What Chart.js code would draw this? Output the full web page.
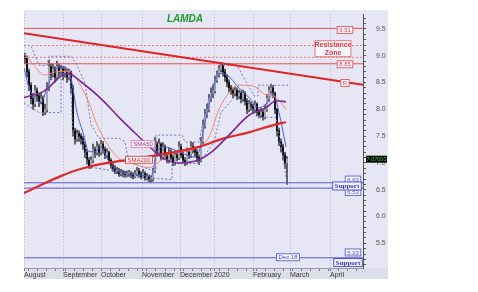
<!DOCTYPE html>
<html>
<head>
<meta charset="utf-8">
<script src="https://cdn.jsdelivr.net/npm/chart.js@4.4.1/dist/chart.umd.min.js"></script>
<style>
html, body { margin: 0; padding: 0; background: #fff; }
</style>
</head>
<body>
<canvas id="chart" width="478" height="292"></canvas>
<script>
// LAMDA daily candles, Aug 2019 - Feb 2020 (x = trading-day slot)
const firstOpen = 9.0;
const closes = [8.95, 8.7, 8.45, 8.2, 8.1, 8.35, 8.25, 8.15, 8.2, 7.95,
  8.0, 8.4, 8.8, 8.65, 8.75, 8.6, 8.8, 8.7, 8.75, 8.65,
  8.7, 8.6, 8.7, 8.4, 7.6, 7.45, 7.55, 7.5, 7.45, 7.35,
  7.2, 7.05, 6.95, 7.05, 7.25, 7.2, 7.3, 7.2, 7.35, 7.25,
  7.15, 7.2, 7.05, 6.95, 6.9, 6.85, 6.85, 6.8, 6.82, 6.8,
  6.78, 6.8, 6.8, 6.78, 6.75, 6.8, 6.85, 6.8, 6.75, 6.8,
  6.72, 6.75, 6.7, 6.7, 6.85, 7.35, 7.2, 7.35, 7.1, 7.3,
  7.15, 7.05, 7.2, 7.1, 7.0, 7.15, 7.1, 7.3, 7.15, 7.05,
  7.0, 7.2, 7.15, 7.3, 7.25, 7.2, 7.1, 7.05, 7.4, 7.7,
  7.9, 8.0, 8.2, 8.3, 8.35, 8.55, 8.65, 8.75, 8.82, 8.7,
  8.6, 8.5, 8.4, 8.35, 8.3, 8.35, 8.25, 8.3, 8.2, 8.3,
  8.15, 8.0, 8.1, 8.05, 8.0, 8.1, 7.95, 7.9, 7.95, 7.85,
  8.0, 8.2, 8.35, 8.4, 8.3, 8.0, 7.6, 7.4, 7.3, 7.15,
  7.0, 7.07];
const highs = [9.05, 9.0, 8.75, 8.5, 8.3, 8.45, 8.4, 8.3, 8.3, 8.25,
  8.1, 8.5, 8.92, 8.85, 8.85, 8.8, 8.9, 8.85, 8.82, 8.8,
  8.78, 8.75, 8.75, 8.72, 8.45, 7.65, 7.62, 7.6, 7.55, 7.5,
  7.4, 7.25, 7.1, 7.12, 7.35, 7.3, 7.4, 7.35, 7.42, 7.4,
  7.3, 7.27, 7.22, 7.08, 7.0, 6.95, 6.92, 6.9, 6.88, 6.86,
  6.85, 6.85, 6.86, 6.84, 6.82, 6.86, 6.92, 6.9, 6.84, 6.88,
  6.84, 6.8, 6.78, 6.76, 6.9, 7.48, 7.4, 7.45, 7.38, 7.38,
  7.34, 7.2, 7.28, 7.25, 7.15, 7.22, 7.2, 7.4, 7.35, 7.2,
  7.1, 7.28, 7.25, 7.4, 7.38, 7.3, 7.25, 7.15, 7.48, 7.8,
  8.0, 8.1, 8.28, 8.4, 8.45, 8.62, 8.72, 8.82, 8.87, 8.85,
  8.75, 8.65, 8.55, 8.45, 8.4, 8.42, 8.4, 8.36, 8.34, 8.36,
  8.33, 8.2, 8.17, 8.14, 8.1, 8.16, 8.12, 8.0, 8.02, 7.98,
  8.08, 8.28, 8.42, 8.47, 8.45, 8.32, 8.02, 7.65, 7.45, 7.35,
  7.2, 7.12];
const lows = [8.85, 8.6, 8.35, 8.1, 8.0, 8.05, 8.15, 8.05, 8.1, 7.88,
  7.9, 7.95, 8.35, 8.55, 8.6, 8.5, 8.55, 8.6, 8.65, 8.55,
  8.6, 8.5, 8.55, 8.3, 7.5, 7.35, 7.4, 7.4, 7.35, 7.25,
  7.1, 6.98, 6.9, 6.9, 7.0, 7.1, 7.15, 7.12, 7.15, 7.18,
  7.08, 7.1, 6.98, 6.9, 6.84, 6.8, 6.8, 6.75, 6.76, 6.74,
  6.73, 6.74, 6.75, 6.72, 6.7, 6.72, 6.76, 6.74, 6.7, 6.72,
  6.68, 6.68, 6.65, 6.64, 6.66, 6.82, 7.12, 7.15, 7.05, 7.06,
  7.1, 7.0, 7.0, 7.05, 6.95, 6.96, 7.04, 7.06, 7.1, 7.0,
  6.95, 6.97, 7.08, 7.1, 7.18, 7.12, 7.02, 6.97, 7.02, 7.35,
  7.65, 7.85, 7.95, 8.15, 8.22, 8.3, 8.5, 8.6, 8.7, 8.62,
  8.52, 8.42, 8.32, 8.28, 8.22, 8.25, 8.18, 8.2, 8.12, 8.15,
  8.08, 7.92, 7.95, 7.98, 7.92, 7.95, 7.88, 7.84, 7.85, 7.8,
  7.82, 7.96, 8.15, 8.3, 8.22, 7.92, 7.5, 7.32, 7.2, 7.05,
  6.9, 6.6];

// moving averages: [slot, price]
const sma200 = [[0, 6.44], [8, 6.58], [17.5, 6.74], [25, 6.85], [32.5, 6.93],
  [42, 7.0], [52.5, 7.06], [67.5, 7.15], [87.5, 7.3], [99, 7.45], [112.5, 7.57],
  [126, 7.72], [131, 7.76]];
const sma50 = [[0, 8.22], [10, 8.34], [21.5, 8.67], [31, 8.44], [39, 8.18],
  [47.5, 7.85], [56, 7.54], [64, 7.26], [70, 7.08], [77.5, 7.0], [87.5, 7.06],
  [94, 7.21], [102.5, 7.52], [112.5, 7.89], [121, 8.03], [126, 8.16], [131, 8.14]];
const sma20 = [[0, 9.04], [5, 8.82], [10, 8.64], [17.5, 8.71], [22.5, 8.71],
  [27.5, 8.49], [32.5, 8.12], [36, 7.76], [41, 7.39], [47.5, 7.08], [56, 6.97],
  [62.5, 6.91], [67.5, 7.02], [72.5, 7.17], [79, 7.21], [87.5, 7.3], [92.5, 7.48],
  [97.5, 8.0], [102.5, 8.31], [107.5, 8.45], [114, 8.44], [121, 8.27], [126, 8.22],
  [131, 8.0]];
const smaFast = [[0, 8.77], [2.5, 8.4], [5.5, 8.22], [8.5, 8.12], [11.5, 8.4],
  [15, 8.71], [20, 8.8], [23.5, 8.58], [26.5, 7.94], [29.5, 7.57], [32.5, 7.21],
  [35.5, 7.21], [38.5, 7.3], [42.5, 7.02], [47.5, 6.84], [57.5, 6.78], [63.5, 6.75],
  [66.5, 7.21], [70, 7.3], [77.5, 7.21], [85, 7.11], [87.5, 7.21], [90, 7.67],
  [93.5, 8.22], [97.5, 8.67], [101.5, 8.64], [107.5, 8.4], [112.5, 8.22],
  [117.5, 8.03], [121.5, 8.12], [124.5, 8.31], [127.5, 7.94], [131, 7.3]];
const channelHigh = [[0, 9.19], [3.5, 9.19], [7.5, 8.82], [11.5, 8.82], [12.5, 8.99],
  [23.5, 8.99], [26, 8.86], [30.5, 8.49], [33.5, 7.72], [37.5, 7.46], [47.5, 7.46],
  [50.5, 7.39], [52.5, 7.02], [62.5, 6.88], [66, 6.88], [66, 7.52], [79, 7.52],
  [80.5, 7.39], [87.5, 7.39], [89.5, 7.76], [92.5, 8.22], [95.5, 8.58], [98, 8.82],
  [106.5, 8.82], [115, 8.25], [117, 8.25], [117, 8.45], [132.5, 8.45]];
const channelLow = [[0, 8.12], [7.5, 7.94], [18.5, 7.94], [18.5, 8.67], [23, 8.67],
  [24.5, 7.54], [30.5, 7.39], [31.5, 6.93], [47.5, 6.84], [51, 6.75], [74, 6.69],
  [74, 6.99], [87.5, 6.99], [95, 7.39], [98.5, 7.94], [105, 8.22], [112.5, 8.12],
  [116.5, 7.85], [126, 7.85], [129, 7.21], [131.5, 6.62]];

const resistance = [9.51, 8.85];
const zone = [9.19, 8.97];
const supports = [6.63, 6.53, 5.23];
const trendR = [[0, 9.42], [169.5, 8.46]];
const lastPrice = 7.07;

const monthLabels = ['August', 'September', 'October', 'November', 'December', '2020', 'February', 'March', 'April'];
const monthStarts = [0, 19.5, 38.5, 59, 78, 95, 114.5, 133, 153];

const X_MAX = 169.5;
const opens = closes.map((c, i) => i ? closes[i - 1] : firstOpen);
const pts = arr => arr.map(p => ({ x: p[0], y: p[1] }));
const flat = v => [{ x: 0, y: v }, { x: X_MAX, y: v }];

function lineSet(data, color, width, extra) {
  return Object.assign({
    type: 'line', data: data, borderColor: color, borderWidth: width,
    pointRadius: 0, fill: false, tension: 0, order: 1
  }, extra || {});
}

const datasets = [];
resistance.forEach(v => datasets.push(lineSet(flat(v), '#e85050', 1, { order: 3 })));
zone.forEach(v => datasets.push(lineSet(flat(v), '#e87878', 1, { borderDash: [2, 2], order: 3 })));
supports.forEach(v => datasets.push(lineSet(flat(v), '#5a5ad6', 1, { order: 3 })));
datasets.push(lineSet(pts(trendR), '#e02424', 2, { order: 2 }));
datasets.push(lineSet(pts(channelHigh), '#6a78c8', 1, { borderDash: [2, 2], order: 3 }));
datasets.push(lineSet(pts(channelLow), '#6a78c8', 1, { borderDash: [2, 2], order: 3 }));
datasets.push(lineSet(pts(sma20), '#f08a78', 1, { cubicInterpolationMode: 'monotone', order: 2 }));
datasets.push(lineSet(pts(smaFast), '#4f5fd8', 1, { cubicInterpolationMode: 'monotone', order: 2 }));
datasets.push(lineSet(pts(sma50), '#7a2a92', 1.6, { cubicInterpolationMode: 'monotone', order: 1 }));
datasets.push(lineSet(pts(sma200), '#e02a2a', 2.2, { cubicInterpolationMode: 'monotone', order: 1 }));

// candles: wick bars and body bars on the same slot
datasets.push({
  type: 'bar', grouped: false, order: 6, barThickness: 0.8,
  data: closes.map((c, i) => ({ x: i + 0.5, y: [lows[i], highs[i]] })),
  backgroundColor: '#333333'
});
datasets.push({
  type: 'bar', grouped: false, order: 5, barThickness: 1.4, minBarLength: 1,
  data: closes.map((c, i) => ({ x: i + 0.5, y: [opens[i], c] })),
  backgroundColor: closes.map((c, i) => c >= opens[i] ? '#a4a4b2' : '#111111')
});

const notes = [
  { t: '9.51', x: 160.5, y: 9.48, c: '#e04848' },
  { t: '8.85', x: 160.5, y: 8.84, c: '#e04848' },
  { t: 'R', x: 160.5, y: 8.49, c: '#e04848' },
  { t: '6.63', x: 164.5, y: 6.69, c: '#5050d0' },
  { t: '6.53', x: 164.5, y: 6.46, c: '#5050d0' },
  { t: '5.23', x: 164.5, y: 5.33, c: '#5050d0' },
  { t: 'Dec 18', x: 132, y: 5.24, c: '#5050d0' },
  { t: 'SMA50', x: 59.5, y: 7.35, c: '#a03090', b: '#e070a0' },
  { t: 'SMA200', x: 57.5, y: 7.06, c: '#e03030' },
  { t: 'Support', x: 161.5, y: 6.57, c: '#3434c0', bold: true },
  { t: 'Support', x: 162, y: 5.14, c: '#3434c0', bold: true }
];

const decor = {
  id: 'decor',
  beforeDraw(chart) {
    const ctx = chart.ctx;
    ctx.save();
    ctx.fillStyle = '#e6e6f5';
    ctx.fillRect(24, 10, 364, 269);
    ctx.fillStyle = '#dedeea';
    ctx.fillRect(24, 268, 364, 11);
    ctx.restore();
  },
  afterDatasetsDraw(chart) {
    const ctx = chart.ctx;
    const xs = chart.scales.x, ys = chart.scales.y;
    ctx.save();
    ctx.textAlign = 'center';
    ctx.textBaseline = 'middle';
    notes.forEach(n => {
      ctx.font = n.bold ? 'bold 7px "Liberation Serif"' : '6px "Liberation Sans"';
      const w = ctx.measureText(n.t).width + 4, h = n.bold ? 8 : 7;
      const px = xs.getPixelForValue(n.x), py = ys.getPixelForValue(n.y);
      ctx.fillStyle = '#f4f4ff';
      ctx.fillRect(px - w / 2, py - h / 2, w, h);
      ctx.strokeStyle = n.b || n.c;
      ctx.lineWidth = 0.8;
      ctx.strokeRect(px - w / 2, py - h / 2, w, h);
      ctx.fillStyle = n.c;
      ctx.fillText(n.t, px, py + 0.5);
    });
    // resistance zone box
    const zx = xs.getPixelForValue(154.5), zy = ys.getPixelForValue(9.13);
    ctx.fillStyle = '#f6f6ff';
    ctx.fillRect(zx - 18, zy - 8, 36, 16);
    ctx.strokeStyle = '#e06060';
    ctx.strokeRect(zx - 18, zy - 8, 36, 16);
    ctx.fillStyle = '#e03838';
    ctx.font = 'bold 7px "Liberation Sans"';
    ctx.fillText('Resistance', zx, zy - 3.5);
    ctx.fillText('Zone', zx, zy + 4);
    // title
    ctx.font = 'italic bold 10px "Liberation Sans"';
    ctx.fillStyle = '#1f9a2a';
    ctx.fillText('LAMDA', 185, 19);
    // last price tag
    const ly = ys.getPixelForValue(lastPrice);
    ctx.fillStyle = '#050505';
    ctx.fillRect(366, ly - 3.5, 21, 7);
    ctx.fillStyle = '#35d035';
    ctx.font = '5.5px "Liberation Sans"';
    ctx.fillText(lastPrice.toFixed(5), 376.5, ly + 0.3);
    ctx.restore();
  }
};

new Chart(document.getElementById('chart'), {
  type: 'bar',
  data: { datasets: datasets },
  options: {
    responsive: false,
    animation: false,
    events: [],
    layout: { padding: { left: 24, right: 90, top: 10, bottom: 13 } },
    plugins: { legend: { display: false }, tooltip: { enabled: false } },
    scales: {
      x: {
        type: 'linear', min: 0, max: X_MAX, offset: false,
        afterBuildTicks: s => {
          const t = monthStarts.map(v => ({ value: v }));
          for (let v = 2.3; v < X_MAX; v += 4.55) t.push({ value: v }); // weekly marks
          t.sort((a, b) => a.value - b.value);
          s.ticks = t;
        },
        afterFit: s => { s.height = 11; },
        ticks: {
          autoSkip: false, maxRotation: 0, align: 'start', padding: 0,
          color: '#333', font: { size: 7, family: 'Liberation Sans' },
          callback: v => { const k = monthStarts.indexOf(v); return k >= 0 ? monthLabels[k] : ''; }
        },
        grid: {
          offset: false, tickLength: 3,
          color: c => monthStarts.includes(c.tick && c.tick.value) ? '#b4b4c8' : 'rgba(0,0,0,0)',
          tickColor: '#777'
        },
        border: { color: '#9a9aaa', dash: [1, 2] }
      },
      y: {
        position: 'right', min: 5.04, max: 9.775,
        afterFit: s => { s.width = 25; },
        ticks: {
          stepSize: 0.1, includeBounds: false, autoSkip: false, padding: 10,
          color: '#555', font: { size: 7, family: 'Liberation Sans' },
          callback: v => Math.abs(v * 2 - Math.round(v * 2)) < 1e-6 ? v.toFixed(1) : ''
        },
        grid: { drawOnChartArea: false, tickLength: 3, tickColor: '#555' },
        border: { color: '#555' }
      }
    }
  },
  plugins: [decor]
});
</script>
</body>
</html>
